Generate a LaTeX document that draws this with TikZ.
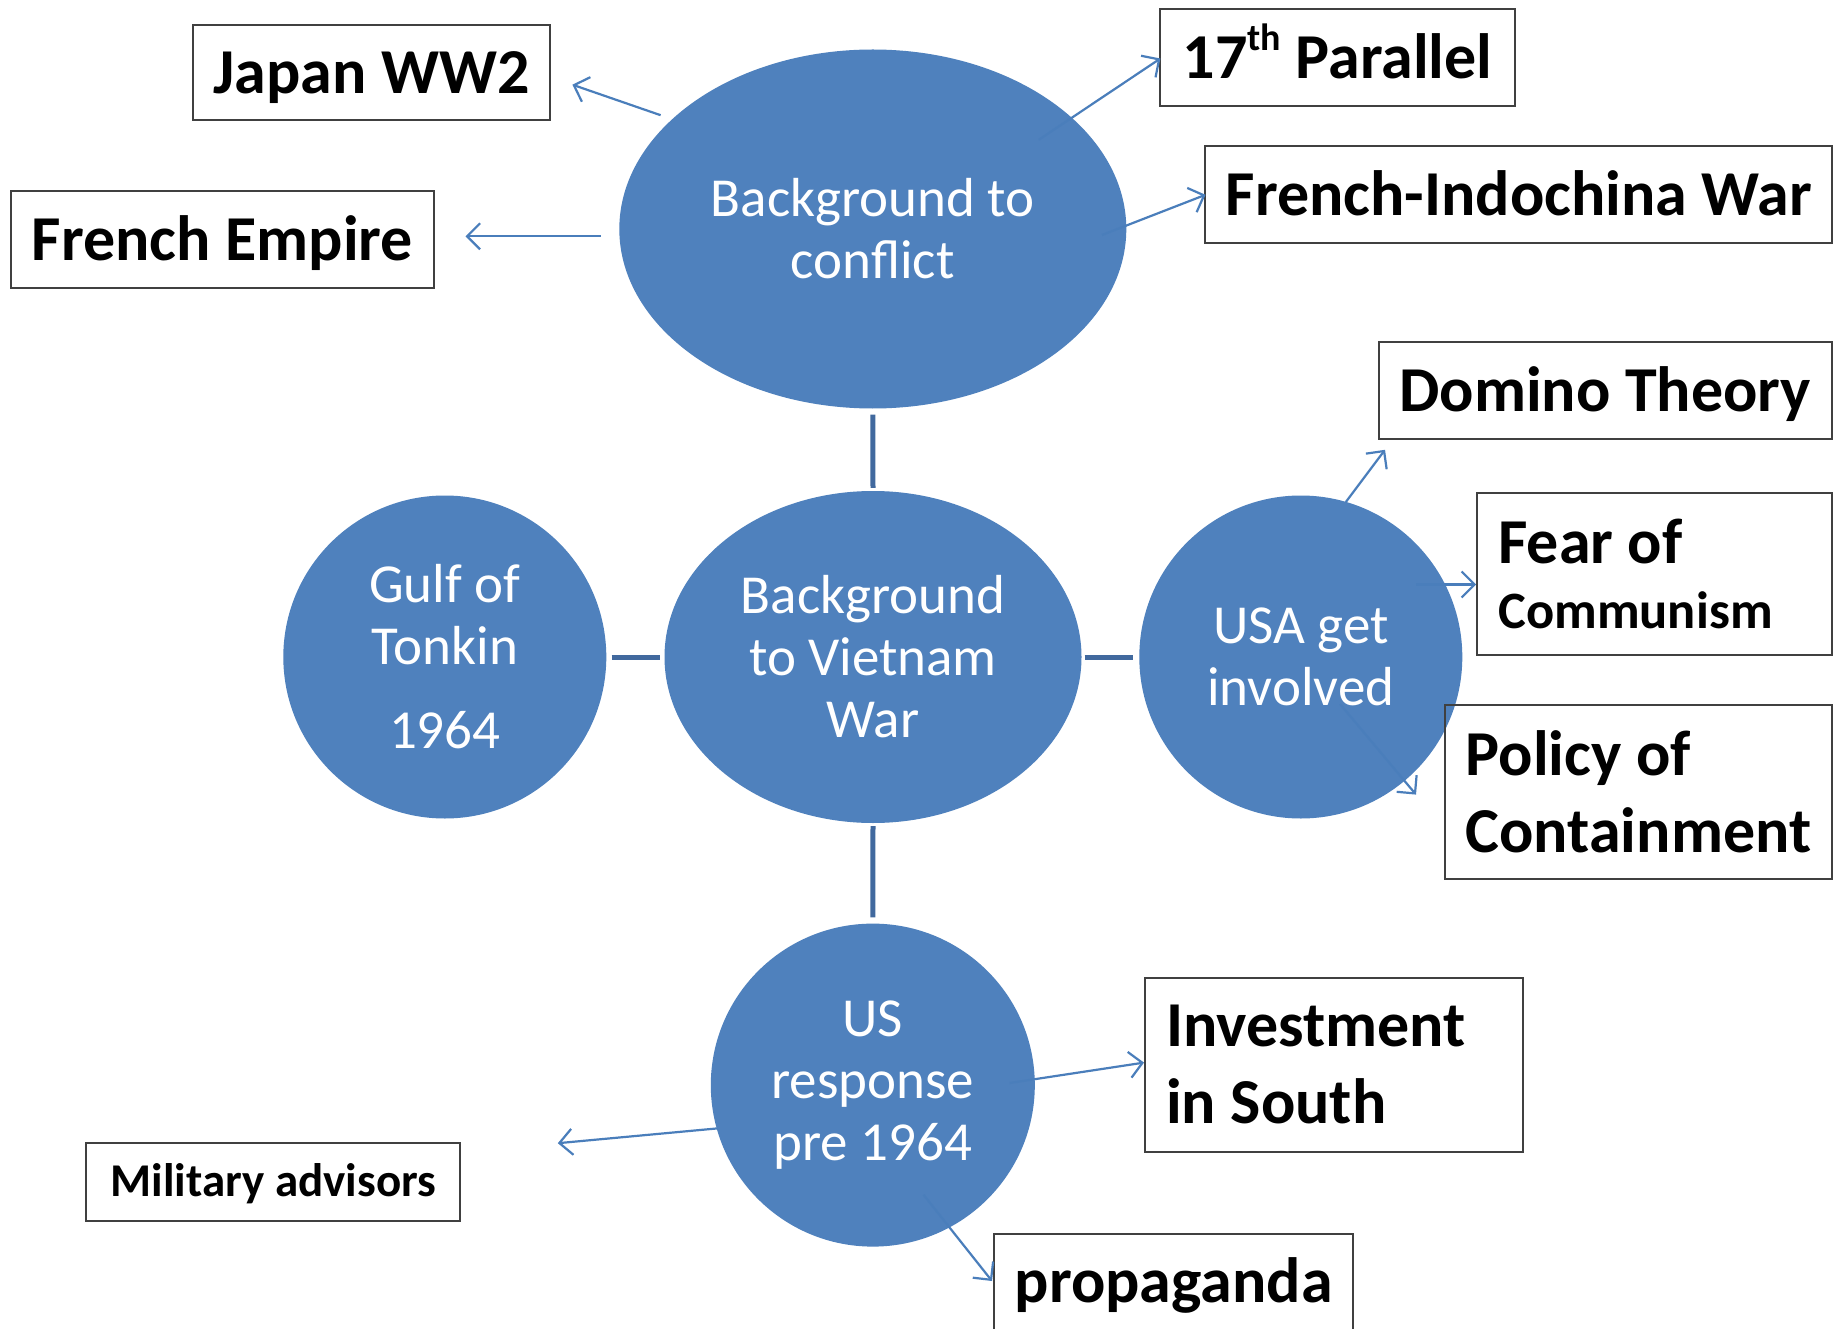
\documentclass[tikz,border=0pt]{standalone}
\usepackage{fontspec}
\setmainfont{Carlito}
\usetikzlibrary{arrows.meta,shapes.geometric}
\definecolor{bub}{HTML}{4F81BD}
\definecolor{linkc}{HTML}{41699E}
\definecolor{arrc}{HTML}{4A7EBB}
\definecolor{boxc}{HTML}{404040}
\begin{document}
\begin{tikzpicture}[x=1pt,y=-1pt,
  bubble/.style={ellipse, fill=bub, draw=none, inner sep=0pt, text=white, align=center,
    font=\fontsize{55}{62}\selectfont},
  tbox/.style={draw=boxc, line width=2pt, rectangle, inner sep=0pt, align=center,
    font=\bfseries\fontsize{64}{77}\selectfont, text height=54.4pt, text depth=12.8pt},
  mbox/.style={draw=boxc, line width=2pt, rectangle, inner xsep=21pt, inner ysep=0pt, align=flush left,
    font=\bfseries\fontsize{64}{77}\selectfont},
  link/.style={draw=linkc, line width=5pt},
  arr/.style={draw=arrc, line width=2.2pt, -{Straight Barb[length=13pt,width=26pt]}}]
\useasboundingbox (0,0) rectangle (1833,1329);
\clip (0,0) rectangle (1833,1329);
\fill[white] (0,0) rectangle (1833,1329);

% bubbles
\node[bubble, minimum width=507pt, minimum height=359pt] (top) at (872.8,229) {Background to\\conflict};
\node[bubble, minimum width=417pt, minimum height=332pt] (mid) at (873,657) {Background\\to Vietnam\\War};
\node[bubble, minimum width=323pt, minimum height=323pt] (gulf) at (444.8,657) {Gulf of\\Tonkin\\[22pt]1964};
\node[bubble, minimum width=323pt, minimum height=323pt] (usa) at (1300.8,657) {USA get\\involved};
\node[bubble, minimum width=324pt, minimum height=323pt] (resp) at (872.8,1085.1) {US\\response\\pre 1964};

% thick links
\draw[link, shorten <=6pt, shorten >=3pt] (top.south) -- (mid.north);
\draw[link, shorten <=5pt, shorten >=4pt] (gulf.east) -- (mid.west);
\draw[link, shorten <=3pt, shorten >=6pt] (mid.east) -- (usa.west);
\draw[link, shorten <=3pt, shorten >=6pt] (mid.south) -- (resp.north);

% boxes
\node[tbox, minimum width=357pt, minimum height=95.5pt] (japan) at (371.5,72.3) {Japan WW2};
\node[tbox, minimum width=423pt, minimum height=96.5pt] (french) at (222.5,239.7) {French Empire};
\node[tbox, minimum width=355.4pt, minimum height=97pt] (par) at (1337.7,58) {17\raisebox{28pt}{\fontsize{38}{38}\selectfont th} Parallel};
\node[tbox, minimum width=626.5pt, minimum height=96.7pt] (indo) at (1518.7,194.3) {French-Indochina War};
\node[tbox, minimum width=453.4pt, minimum height=97pt] (domino) at (1605.3,390.5) {Domino Theory};
\node[mbox, text width=312.6pt, minimum height=161.2pt] (fear) at (1654.7,574) {Fear of\\[-12pt]{\fontsize{52.5}{62}\selectfont Communism}};
\node[mbox, text width=345.3pt, minimum height=174.4pt] (policy) at (1638.3,792.2) {Policy of\\Containment};
\node[mbox, text width=335.8pt, minimum height=173.9pt] (invest) at (1334.1,1064.8) {Investment\\in South};
\node[tbox, minimum width=373.9pt, minimum height=77.6pt, font=\bfseries\fontsize{47}{56}\selectfont,
  text height=38pt, text depth=9.6pt] (military) at (273.4,1182) {Military advisors};
\node[tbox, minimum width=359.6pt, minimum height=120pt, text height=28.8pt, text depth=12.8pt] (prop) at (1173.6,1294.2) {propaganda};

% arrow end points
\coordinate (s1) at (660.6,115.2);  \coordinate (e1) at (572.4,84.7);
\coordinate (s2) at (600.5,236.3);  \coordinate (e2) at (465.5,236.3);
\coordinate (s3) at (1038.8,139.8); \coordinate (e3) at (1160.4,58.5);
\coordinate (s4) at (1102,235);     \coordinate (e4) at (1205.5,194.8);
\coordinate (s5) at (1345.8,502);   \coordinate (e5) at (1385,449.8);
\coordinate (s6) at (1416,584.5);   \coordinate (e6) at (1476.2,584.5);
\coordinate (s7) at (1340,704);     \coordinate (e7) at (1416,794.6);
\coordinate (s8) at (1009.6,1083);  \coordinate (e8) at (1144,1062.6);
\coordinate (s9) at (717.3,1128.4); \coordinate (e9) at (557.8,1143.2);
\coordinate (s10) at (923.5,1194.7); \coordinate (e10) at (992,1281);

\draw[arr] (s1) -- (e1);
\draw[arr] (s2) -- (e2);
\draw[arr] (s3) -- (e3);
\draw[arr] (s4) -- (e4);
\draw[arr] (s5) -- (e5);
\draw[arr] (s6) -- (e6);
\draw[arr] (s7) -- (e7);
\draw[arr] (s8) -- (e8);
\draw[arr] (s9) -- (e9);
\draw[arr] (s10) -- (e10);
\end{tikzpicture}
\end{document}
